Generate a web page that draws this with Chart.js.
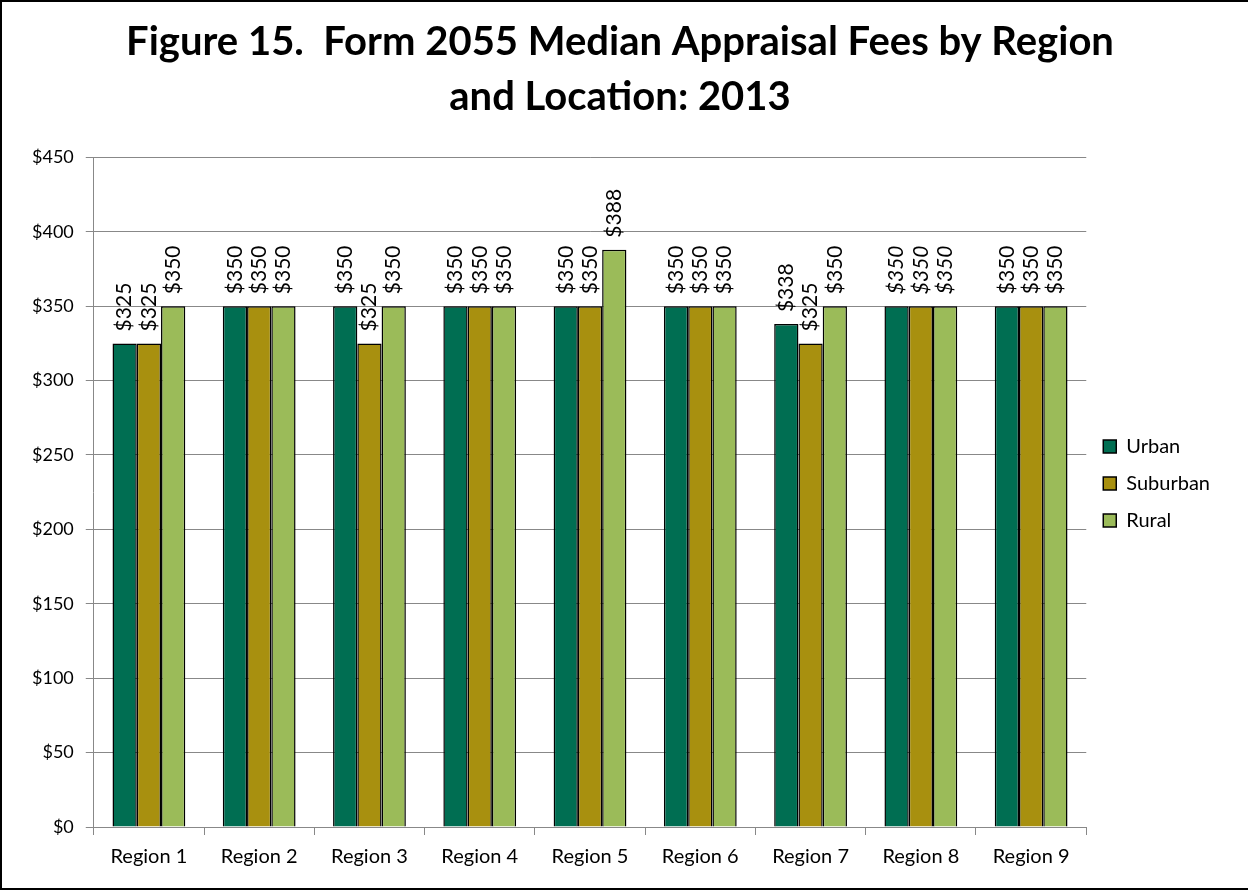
<!DOCTYPE html>
<html>
<head>
<meta charset="utf-8">
<script src="https://cdn.jsdelivr.net/npm/chart.js@4.4.1/dist/chart.umd.min.js"></script>
<style>
  html, body { margin:0; padding:0; background:#fff; }
  #wrap { position:absolute; left:0; top:0; width:1248px; height:890px; box-sizing:border-box; border:2px solid #000; border-right:none; }
  canvas { display:block; }
</style>
</head>
<body>
<div id="wrap"><canvas id="c" width="1246" height="886"></canvas></div>
<script>
  // chart data
  const regions = ['Region 1','Region 2','Region 3','Region 4','Region 5','Region 6','Region 7','Region 8','Region 9'];
  const urban    = [325, 350, 350, 350, 350, 350, 338, 350, 350];
  const suburban = [325, 350, 325, 350, 350, 350, 325, 350, 350];
  const rural    = [350, 350, 350, 350, 388, 350, 350, 350, 350];
  const italicRegion = 'Region 8';
  const titleLines = ['Figure 15.  Form 2055 Median Appraisal Fees by Region', 'and Location: 2013'];

  const FONT = "Lato, 'Open Sans', sans-serif";

  // rotated value labels above each bar
  const barLabels = {
    id: 'barLabels',
    afterDatasetsDraw(chart){
      const ctx = chart.ctx;
      chart.data.datasets.forEach((ds, di)=>{
        const meta = chart.getDatasetMeta(di);
        meta.data.forEach((bar, i)=>{
          const it = chart.data.labels[i] === italicRegion ? 'italic ' : '';
          ctx.save();
          ctx.translate(bar.x, bar.y - 12);
          ctx.rotate(-Math.PI/2);
          ctx.font = it + '21px ' + FONT;
          ctx.fillStyle = '#000';
          ctx.textAlign = 'left';
          ctx.textBaseline = 'middle';
          ctx.fillText('$' + ds.data[i], 0, 0);
          ctx.restore();
        });
      });
    }
  };

  new Chart(document.getElementById('c'), {
    type: 'bar',
    data: {
      labels: regions,
      datasets: [
        { label: 'Urban', data: urban, backgroundColor: '#006E52' },
        { label: 'Suburban', data: suburban, backgroundColor: '#A8900F' },
        { label: 'Rural', data: rural, backgroundColor: '#9BBB59' }
      ]
    },
    options: {
      responsive: false,
      animation: false,
      datasets: { bar: { borderColor: '#000', borderWidth: 1.5, categoryPercentage: 0.66, barPercentage: 1 } },
      layout: { padding: { left: 18, right: 28, top: 0, bottom: 9 } },
      plugins: {
        title: {
          display: true, text: titleLines, color: '#000',
          font: { family: FONT, size: 40, weight: 'bold', lineHeight: 1.38 },
          padding: { top: 12, bottom: 33 }
        },
        legend: {
          position: 'right',
          title: { display: true, text: ' ', font: { size: 10 }, padding: { top: 74, bottom: 0 } },
          labels: {
            color: '#000', boxWidth: 13, boxHeight: 13, padding: 17,
            font: { family: FONT, size: 20 }
          }
        },
        tooltip: { enabled: false }
      },
      scales: {
        x: {
          grid: { offset: true, drawOnChartArea: false, color: '#888', tickLength: 8 },
          border: { color: '#888' },
          ticks: { color: '#000', font: { family: FONT, size: 20 }, padding: 10 }
        },
        y: {
          min: 0, max: 450,
          ticks: { stepSize: 50, color: '#000', font: { family: FONT, size: 18 }, padding: 12, callback: v => '$' + v },
          grid: { color: '#888', tickLength: 8 },
          border: { color: '#888' }
        }
      }
    },
    plugins: [barLabels]
  });
</script>
</body>
</html>
